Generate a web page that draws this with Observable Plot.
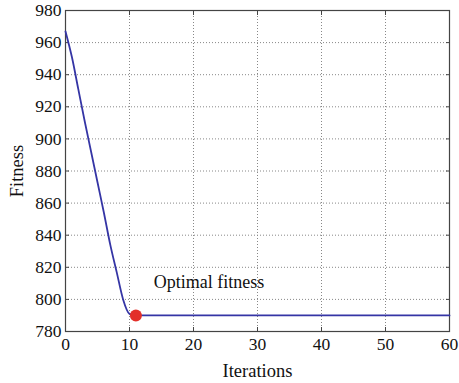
<!DOCTYPE html>
<html>
<head>
<meta charset="utf-8">
<script src="https://cdn.jsdelivr.net/npm/d3@7"></script>
<script src="https://cdn.jsdelivr.net/npm/@observablehq/plot@0.6"></script>
<style>
  html, body { margin: 0; padding: 0; background: #fff; }
  #chart svg { display: block; }
  #chart svg text { font-family: 'Liberation Serif', 'Times New Roman', serif; }
</style>
</head>
<body>
<div id="chart"></div>
<script>
const iterations = [0,1,2,3,4,5,6,7,8,9,10,11,12,13,14,15,16,17,18,19,20,21,22,23,24,25,26,27,28,29,30,31,32,33,34,35,36,37,38,39,40,41,42,43,44,45,46,47,48,49,50,51,52,53,54,55,56,57,58,59,60];
const fitness = [967,951,931,911,892,873,854,834,817,800,791,790,790,790,790,790,790,790,790,790,790,790,790,790,790,790,790,790,790,790,790,790,790,790,790,790,790,790,790,790,790,790,790,790,790,790,790,790,790,790,790,790,790,790,790,790,790,790,790,790,790];
const optimal = [{iteration: 11, fitness: 790}];
const annotationText = "Optimal fitness";
const annotation = [{iteration: 13.8, fitness: 811, label: annotationText}];
const xTicks = [0,10,20,30,40,50,60];
const yTicks = [780,800,820,840,860,880,900,920,940,960,980];

const data = iterations.map((it, i) => ({iteration: it, fitness: fitness[i]}));
const font = "'Liberation Serif', 'Times New Roman', serif";

const chart = Plot.plot({
  width: 459,
  height: 383,
  marginLeft: 65,
  marginRight: 10,
  marginTop: 10,
  marginBottom: 52,
  style: {fontFamily: font, fontSize: "17px", background: "#fff", color: "#111"},
  x: {domain: [0, 60]},
  y: {domain: [780, 980]},
  marks: [
    Plot.gridX(xTicks, {stroke: "#888", strokeOpacity: 1, strokeDasharray: "1,2", strokeWidth: 1}),
    Plot.gridY(yTicks, {stroke: "#888", strokeOpacity: 1, strokeDasharray: "1,2", strokeWidth: 1}),
    Plot.axisX(xTicks, {anchor: "bottom", tickSize: 4, dy: -4, text: null, stroke: "#444", label: null}),
    Plot.axisX(xTicks, {anchor: "top", tickSize: 4, dy: 4, text: null, stroke: "#444", label: null}),
    Plot.axisY(yTicks, {anchor: "left", tickSize: 4, dx: 4, text: null, stroke: "#444", label: null}),
    Plot.axisY(yTicks, {anchor: "right", tickSize: 4, dx: -4, text: null, stroke: "#444", label: null}),
    Plot.axisX(xTicks, {anchor: "bottom", tickSize: 0, tickPadding: 6, fontSize: 17.5, fontFamily: font, fontVariant: "normal", label: null}),
    Plot.axisX({anchor: "bottom", ticks: [], tickSize: 0, fontSize: 18.5, fontFamily: font, label: "Iterations", labelAnchor: "center", labelArrow: "none", labelOffset: 45}),
    Plot.axisY(yTicks, {anchor: "left", tickSize: 0, tickPadding: 4, fontSize: 17.5, fontFamily: font, fontVariant: "normal", label: null}),
    Plot.axisY({anchor: "left", ticks: [], tickSize: 0, fontSize: 18.5, fontFamily: font, label: "Fitness", labelAnchor: "center", labelArrow: "none", labelOffset: 56}),
    Plot.frame({stroke: "#444", strokeWidth: 1.2}),
    Plot.line(data, {x: "iteration", y: "fitness", stroke: "#3535a5", strokeWidth: 1.8, curve: "monotone-x"}),
    Plot.dot(optimal, {x: "iteration", y: "fitness", r: 6, fill: "#e3302a", stroke: "none"}),
    Plot.text(annotation, {x: "iteration", y: "fitness", text: "label", textAnchor: "start", fontSize: 18, fontFamily: font, fill: "#111"})
  ]
});
document.getElementById("chart").appendChild(chart);
</script>
</body>
</html>
